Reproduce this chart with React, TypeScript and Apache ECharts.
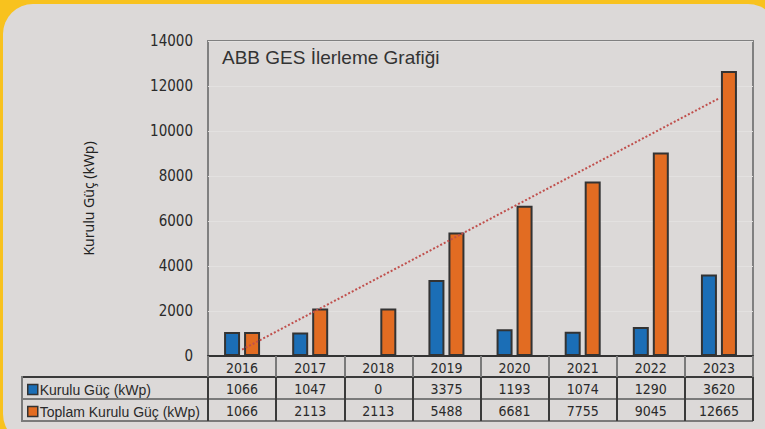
import React, { useEffect, useRef } from "react";
import * as echarts from "echarts";

const years = ["2016", "2017", "2018", "2019", "2020", "2021", "2022", "2023"];
const kurulu = [1066, 1047, 0, 3375, 1193, 1074, 1290, 3620];
const toplam = [1066, 2113, 2113, 5488, 6681, 7755, 9045, 12665];
// dotted trend line end points
const trendYears = ["2016", "2023"];
const trendValues = [285, 11450];
const yTicks = { min: 0, max: 14000, interval: 2000 };

const NUM_FONT = '"Liberation Sans Narrow", "DejaVu Sans Condensed", "Liberation Sans", sans-serif';
const TXT_FONT = '"Liberation Sans", Arial, sans-serif';

export default function App() {
  const ref = useRef<HTMLDivElement>(null);
  useEffect(() => {
    if (!ref.current) return;
    const chart = echarts.init(ref.current, null, { renderer: "svg" });
    const dark = "#3a3a3a";
    const mid = "#7a7a7a";
    const tableAxis = (offset: number, values: number[], tickColor: string) => ({
      type: "category",
      data: years,
      position: "bottom",
      offset,
      axisLine: { show: false },
      axisTick: { show: true, length: 22, lineStyle: { color: tickColor, width: 2 } },
      axisLabel: {
        margin: 5,
        fontFamily: NUM_FONT,
        fontSize: 14,
        color: "#2a2a2a",
        formatter: (_v: string, i: number) => String(values[i]),
      },
    });
    chart.setOption({
      animation: false,
      backgroundColor: "#F8C21E",
      graphic: [
        { type: "rect", z: -100, shape: { x: 3, y: 4, width: 775, height: 440, r: 30 }, style: { fill: "#DCD9D8" } },
        { type: "line", shape: { x1: 22, y1: 377, x2: 753, y2: 377 }, style: { stroke: dark, lineWidth: 2 } },
        { type: "line", shape: { x1: 22, y1: 399, x2: 753, y2: 399 }, style: { stroke: mid, lineWidth: 2 } },
        { type: "line", shape: { x1: 22, y1: 421, x2: 753, y2: 421 }, style: { stroke: mid, lineWidth: 2 } },
        { type: "line", shape: { x1: 22, y1: 376, x2: 22, y2: 422 }, style: { stroke: mid, lineWidth: 2 } },
      ],
      title: {
        text: "ABB GES İlerleme Grafiği",
        left: 222,
        top: 48,
        padding: 0,
        textStyle: { fontFamily: TXT_FONT, fontWeight: "normal", fontSize: 19, color: "#333" },
      },
      legend: {
        orient: "vertical",
        left: 27,
        top: 382,
        padding: 0,
        itemWidth: 10,
        itemHeight: 10,
        itemGap: 7,
        data: ["Kurulu Güç (kWp)", "Toplam Kurulu Güç (kWp)"],
        icon: "rect",
        itemStyle: { borderColor: "#333", borderWidth: 1.5 },
        textStyle: { fontFamily: TXT_FONT, fontSize: 14, lineHeight: 15, color: "#2a2a2a", padding: [0, 0, 0, -3] },
      },
      grid: {
        left: 208,
        right: 12,
        top: 41,
        bottom: 73,
        show: true,
        borderColor: "#808080",
        borderWidth: 2,
        backgroundColor: "transparent",
      },
      xAxis: [
        {
          type: "category",
          data: years,
          axisLine: { show: true, lineStyle: { color: "#333", width: 2 } },
          axisTick: { show: true, length: 21, lineStyle: { color: mid, width: 2 } },
          axisLabel: { margin: 5, fontFamily: NUM_FONT, fontSize: 14, color: "#2a2a2a" },
        },
        tableAxis(21, kurulu, dark),
        tableAxis(43, toplam, dark),
      ],
      yAxis: {
        type: "value",
        min: yTicks.min,
        max: yTicks.max,
        interval: yTicks.interval,
        name: "Kurulu Güç (kWp)",
        nameLocation: "middle",
        nameGap: 113,
        nameTextStyle: { fontFamily: '"Noto Sans", "Open Sans", sans-serif', fontSize: 14, color: "#222" },
        axisLine: { show: false },
        axisTick: { show: false },
        axisLabel: {
          margin: 15,
          fontFamily: NUM_FONT,
          fontSize: 15,
          color: "#2a2a2a",
          formatter: (v: number) => String(v),
        },
        splitLine: { show: true, lineStyle: { color: "#E3E1E0", width: 1 } },
      },
      series: [
        {
          name: "Kurulu Güç (kWp)",
          type: "bar",
          data: kurulu,
          barWidth: 16,
          barGap: "25%",
          itemStyle: { color: "#1B6EB6", borderColor: "#333", borderWidth: 2 },
        },
        {
          name: "Toplam Kurulu Güç (kWp)",
          type: "bar",
          data: toplam,
          barWidth: 16,
          barGap: "25%",
          itemStyle: { color: "#E26C22", borderColor: "#333", borderWidth: 2 },
        },
        {
          name: "Trend",
          type: "line",
          data: trendYears.map((y, i) => [y, trendValues[i]]),
          symbol: "none",
          z: 5,
          lineStyle: { color: "#C0504D", width: 2, type: [2, 2] },
        },
      ],
    });
    return () => chart.dispose();
  }, []);
  return <div ref={ref} style={{ position: "fixed", left: 0, top: 0, width: 765, height: 429 }} />;
}
